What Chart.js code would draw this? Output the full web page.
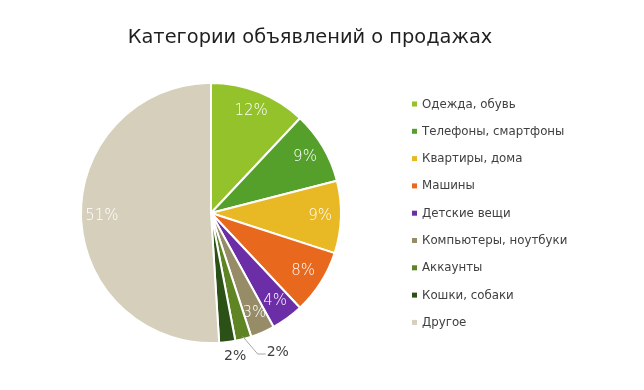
<!DOCTYPE html>
<html>
<head>
<meta charset="utf-8">
<script src="https://cdn.jsdelivr.net/npm/chart.js@4.4.0/dist/chart.umd.min.js"></script>
<style>
  html, body { margin: 0; padding: 0; background: #fff; }
  #wrap { width: 644px; height: 390px; position: relative; }
</style>
</head>
<body>
<div id="wrap"><canvas id="salesChart"></canvas></div>
<script>
const chartTitle = 'Категории объявлений о продажах';
const categories = [
  'Одежда, обувь',
  'Телефоны, смартфоны',
  'Квартиры, дома',
  'Машины',
  'Детские вещи',
  'Компьютеры, ноутбуки',
  'Аккаунты',
  'Кошки, собаки',
  'Другое'
];
const shares = [12, 9, 9, 8, 4, 3, 2, 2, 51];
const sliceColors = ['#93c22b', '#55a02a', '#e9b825', '#e8691d', '#6c2ea6', '#968c68', '#5e8424', '#2b5117', '#d5cfbc'];

const FONT = '"DejaVu Sans", sans-serif';

// percent labels inside slices, small ones outside (one with a leader line)
const sliceLabels = {
  id: 'sliceLabels',
  afterDatasetsDraw(chart) {
    const ctx = chart.ctx;
    const meta = chart.getDatasetMeta(0);
    ctx.save();
    ctx.textAlign = 'center';
    ctx.textBaseline = 'middle';
    meta.data.forEach((arc, i) => {
      const { x, y, startAngle, endAngle, outerRadius } = arc.getProps(['x', 'y', 'startAngle', 'endAngle', 'outerRadius'], true);
      const mid = (startAngle + endAngle) / 2;
      const txt = shares[i] + '%';
      if (i === 6) {
        // leader line
        const r0 = outerRadius * 0.98;
        const px = x + Math.cos(mid) * r0, py = y + Math.sin(mid) * r0;
        const ex = px + 15, ey = y + outerRadius + 11;
        ctx.strokeStyle = '#a6a6a6';
        ctx.lineWidth = 1;
        ctx.beginPath();
        ctx.moveTo(px, py);
        ctx.lineTo(ex, ey);
        ctx.lineTo(ex + 8, ey);
        ctx.stroke();
        ctx.fillStyle = '#404040';
        ctx.font = '14px ' + FONT;
        ctx.textAlign = 'left';
        ctx.fillText(txt, ex + 9, ey - 2);
        ctx.textAlign = 'center';
      } else if (i === 7) {
        const r = outerRadius * 1.11;
        ctx.fillStyle = '#404040';
        ctx.font = '14px ' + FONT;
        ctx.fillText(txt, x + Math.cos(mid) * r + 6, y + Math.sin(mid) * r);
      } else {
        const r = outerRadius * 0.84;
        ctx.fillStyle = '#ffffff';
        ctx.font = '300 15px ' + FONT;
        ctx.fillText(txt, x + Math.cos(mid) * r, y + Math.sin(mid) * r);
      }
    });
    ctx.restore();
  }
};

// title and legend on the right
const sideText = {
  id: 'sideText',
  afterDraw(chart) {
    const ctx = chart.ctx;
    ctx.save();
    ctx.fillStyle = '#1f1f1f';
    ctx.font = '19.4px ' + FONT;
    ctx.textAlign = 'center';
    ctx.textBaseline = 'middle';
    ctx.fillText(chartTitle, 310, 38);

    ctx.font = '11.8px ' + FONT;
    ctx.textAlign = 'left';
    categories.forEach((name, i) => {
      const cy = 104.5 + i * 27.3;
      ctx.fillStyle = sliceColors[i];
      ctx.fillRect(412, cy - 3, 5, 5);
      ctx.fillStyle = '#404040';
      ctx.fillText(name, 422, cy);
    });
    ctx.restore();
  }
};

const ctx = document.getElementById('salesChart').getContext('2d');
new Chart(ctx, {
  type: 'pie',
  data: {
    labels: categories,
    datasets: [{
      data: shares,
      backgroundColor: sliceColors,
      borderColor: '#ffffff',
      borderWidth: 2
    }]
  },
  options: {
    responsive: true,
    maintainAspectRatio: false,
    animation: false,
    layout: {
      padding: { left: 80, right: 302, top: 82, bottom: 46 }
    },
    plugins: {
      legend: { display: false },
      title: { display: false },
      tooltip: { enabled: false }
    }
  },
  plugins: [sliceLabels, sideText]
});
</script>
</body>
</html>
